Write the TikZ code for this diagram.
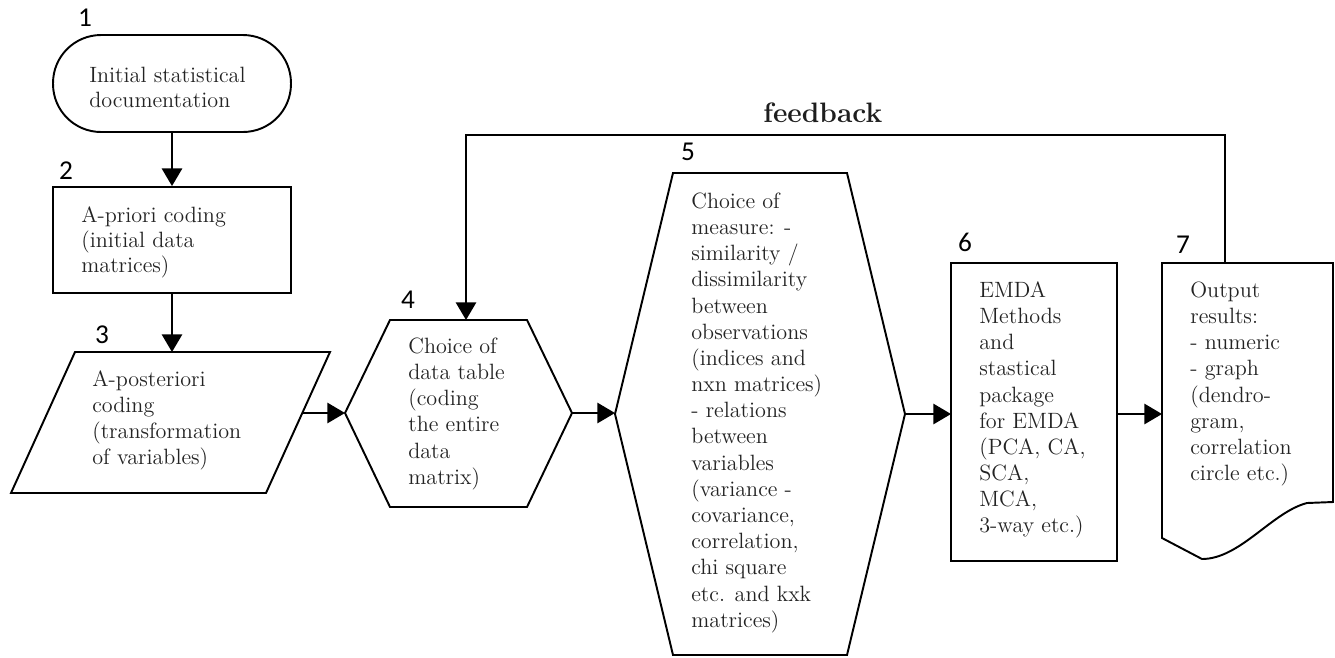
\documentclass[tikz,border=0pt]{standalone}
\usepackage{fontspec}
\newfontfamily\numfont{Carlito}
\usetikzlibrary{arrows.meta}
\definecolor{txt}{RGB}{35,35,35}
\newcommand{\topstrutA}{\rule{0pt}{10pt}}
\tikzset{
  shapeline/.style={draw=black, line width=1.1pt, line join=miter},
  conn/.style={draw=black, line width=1.1pt, -{Triangle[length=10pt,width=11.5pt]}},
  numlabel/.style={font=\numfont\fontsize{15.5}{18}\selectfont, inner sep=0pt, anchor=center},
  boxtext/.style={font=\fontsize{12.6}{14.9}\selectfont, text=txt, align=left, anchor=north west, inner sep=0pt},
  boxtextA/.style={boxtext, font=\fontsize{12.6}{14.2}\selectfont},
}
\begin{document}
\begin{tikzpicture}[x=0.02cm, y=-0.02cm]
\useasboundingbox (0,0) rectangle (1335,657);
\fill[white] (0,0) rectangle (1335,657);

% rectangular nodes
\node[shapeline, rounded corners=0.96cm, minimum width=4.76cm, minimum height=1.94cm, inner sep=0pt] (n1) at (172,83.5) {};
\node[shapeline, minimum width=4.76cm, minimum height=2.12cm, inner sep=0pt] (n2) at (172,240) {};
\node[shapeline, minimum width=3.32cm, minimum height=5.96cm, inner sep=0pt] (n6) at (1034,412) {};

% polygon shapes
\draw[shapeline] (75,352) -- (330,352) -- (266,493) -- (11,493) -- cycle;
\draw[shapeline] (345,413) -- (390,320) -- (527,320) -- (572,413) -- (527,507) -- (390,507) -- cycle;
\draw[shapeline] (615,414) -- (673,173) -- (847,173) -- (905,414) -- (847,655) -- (673,655) -- cycle;
\draw[shapeline] (1162,263) -- (1333,263) -- (1333,502) -- (1307,503)
   .. controls (1272,512) and (1240,559) .. (1202,559) -- (1162,538) -- cycle;

% anchor coordinates
\coordinate (n3n) at (172,352);
\coordinate (n3e) at (302,413);
\coordinate (n4w) at (345,413);
\coordinate (n4e) at (572,413);
\coordinate (n4n) at (466,320);
\coordinate (n5w) at (615,413);
\coordinate (n5e) at (905,414);
\coordinate (n6w) at (951,414);
\coordinate (n6e) at (1117,414);
\coordinate (n7w) at (1162,414);
\coordinate (n7n) at (1225,263);
\coordinate (fbr) at (1225,135);
\coordinate (fbl) at (466,135);

% connectors
\draw[conn] (n1.south) -- (n2.north);
\draw[conn] (n2.south) -- (n3n);
\draw[conn] (n3e) -- (n4w);
\draw[conn] (n4e) -- (n5w);
\draw[conn] (n5e) -- (n6w);
\draw[conn] (n6e) -- (n7w);
\draw[conn] (n7n) -- (fbr) -- (fbl) -- (n4n);

% texts
\node[boxtextA] (t1) at (89,64.4) {\topstrutA Initial statistical\\documentation};
\node[boxtextA] (t2) at (81,204.4) {\topstrutA A-priori coding\\(initial data\\matrices)};
\node[boxtext] (t3) at (92,368.4) {\topstrutA A-posteriori\\coding\\(transformation\\of variables)};
\node[boxtext] (t4) at (408,335.4) {\topstrutA Choice of\\data table\\(coding\\the entire\\data\\matrix)};
\node[boxtext] (t5) at (691,190.4) {\topstrutA Choice of\\measure: -\\similarity /\\dissimilarity\\between\\observations\\(indices and\\nxn matrices)\\- relations\\between\\variables\\(variance -\\covariance,\\correlation,\\chi square\\etc. and kxk\\matrices)};
\node[boxtext] (t6) at (979,279.4) {\topstrutA EMDA\\Methods\\and\\stastical\\package\\for EMDA\\(PCA, CA,\\SCA,\\MCA,\\3-way etc.)};
\node[boxtext] (t7) at (1190,279.4) {\topstrutA Output\\results:\\- numeric\\- graph\\(dendro-\\gram,\\correlation\\circle etc.)};

% numbers
\node[numlabel] (l1) at (85,18) {1};
\node[numlabel] (l2) at (66,171) {2};
\node[numlabel] (l3) at (102,335) {3};
\node[numlabel] (l4) at (408,300) {4};
\node[numlabel] (l5) at (688,152) {5};
\node[numlabel] (l6) at (965,242) {6};
\node[numlabel] (l7) at (1183,245) {7};

% feedback label
\node[font=\bfseries\fontsize{16}{19}\selectfont, text={rgb,255:red,30;green,30;blue,30}, anchor=base west, inner sep=0pt] (fb) at (763,122) {feedback};
\end{tikzpicture}
\end{document}
